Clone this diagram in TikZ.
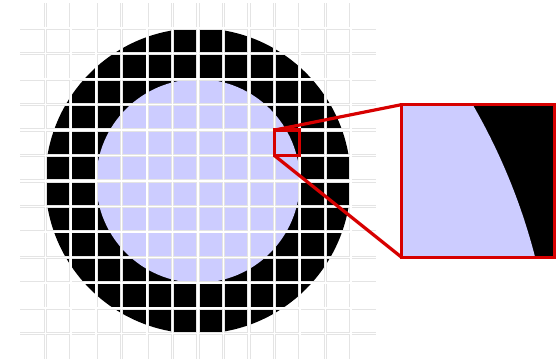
\documentclass[tikz,border=0pt]{standalone}
\usepackage{tikz}
\definecolor{clavande}{RGB}{204,204,255}
\definecolor{crouge}{RGB}{215,0,0}
\definecolor{cgrille}{RGB}{228,228,228}

\begin{document}
\begin{tikzpicture}[x=1cm, y=1cm,
  bord grille/.style={cgrille, line width=3.6pt},
  trait grille/.style={white, line width=1.7pt},
  trait rouge/.style={crouge, line width=3.6pt},
  cadre rouge/.style={draw=crouge, line width=3.6pt, inner sep=0pt, outer sep=0pt}]
\useasboundingbox (-7.78,-7.07) rectangle (14.22,7.11);
\fill[black] (0,0) circle (6);
\fill[clavande] (0,0) circle (4);
\foreach \k in {-6,...,6}
  {\draw[bord grille] (\k,-7) -- (\k,7);
   \draw[bord grille] (-7,\k) -- (7,\k);}
\foreach \k in {-6,...,6}
  {\draw[trait grille] (\k,-7) -- (\k,7);
   \draw[trait grille] (-7,\k) -- (7,\k);}
\node[cadre rouge, minimum size=1cm] (cellule) at (3.5,1.5) {};
\begin{scope}
  \clip (8,-3) rectangle (14,3);
  \fill[black] (8,-3) rectangle (14,3);
  \fill[clavande] (-10,-9) circle (24);
\end{scope}
\node[cadre rouge, minimum size=6cm] (loupe) at (11,0) {};
\draw[trait rouge] (cellule.north west) -- (loupe.north west);
\draw[trait rouge] (cellule.south west) -- (loupe.south west);
\end{tikzpicture}
\end{document}
